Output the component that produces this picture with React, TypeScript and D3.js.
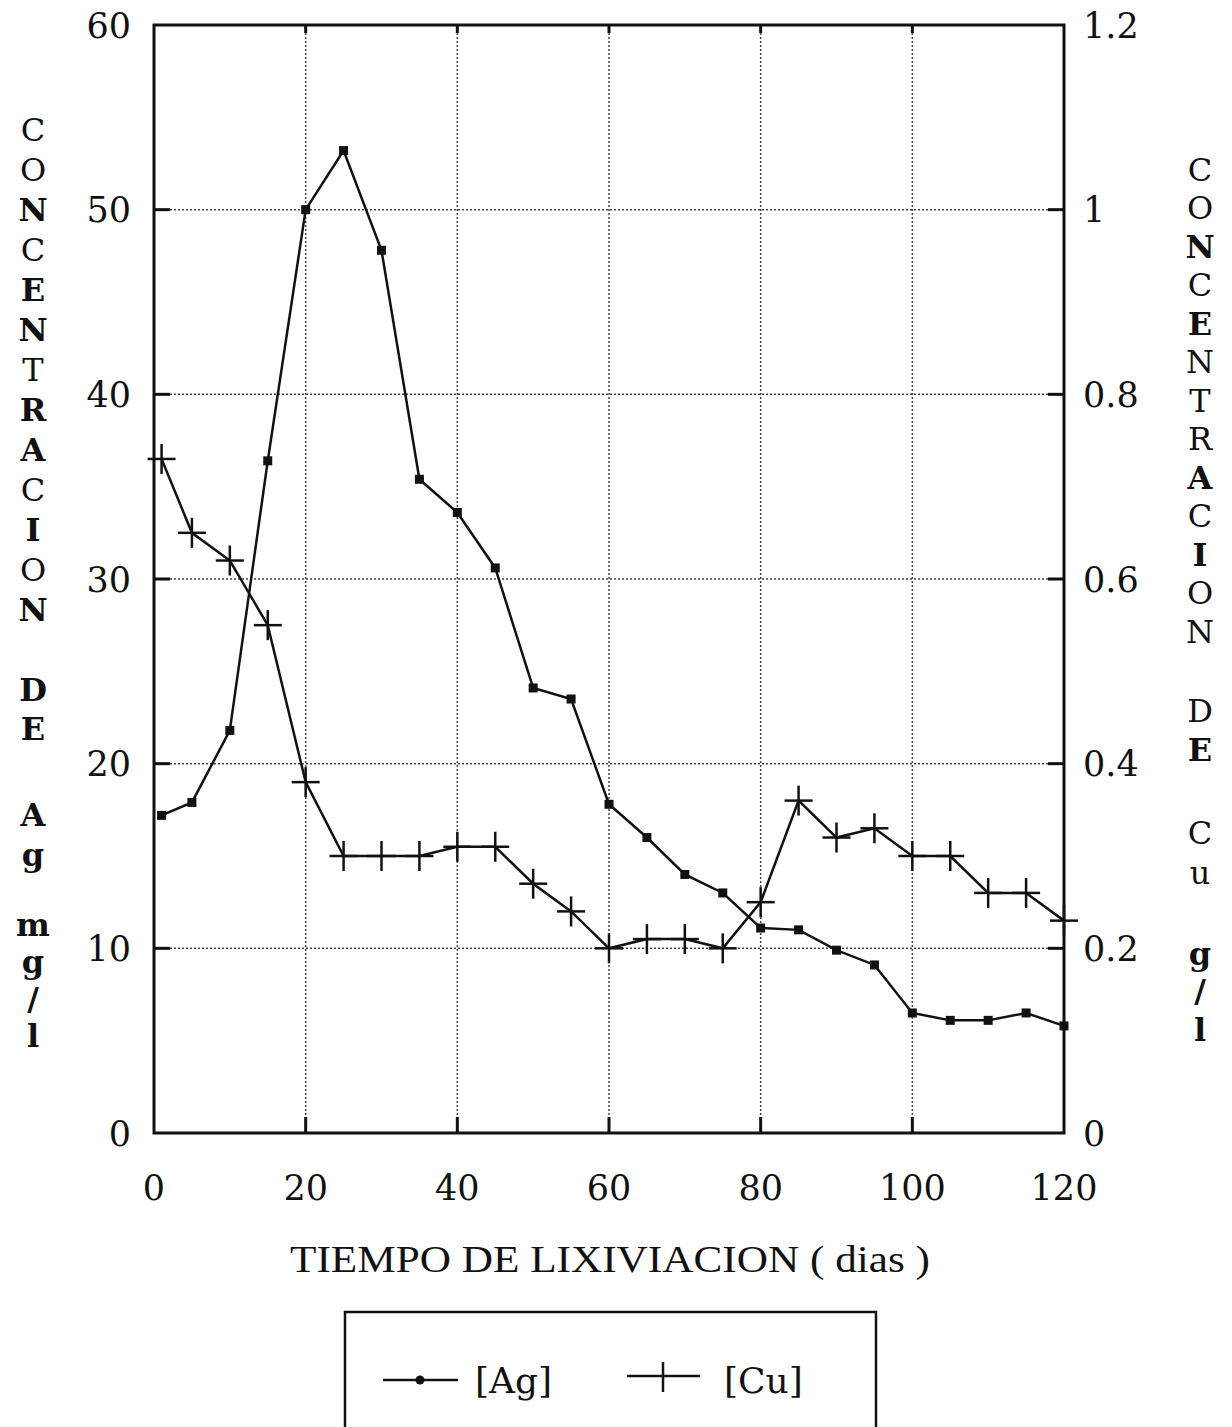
import React from 'react';
import * as d3 from 'd3';

// Dias de lixiviacion
const days = [1, 5, 10, 15, 20, 25, 30, 35, 40, 45, 50, 55, 60, 65, 70, 75, 80, 85, 90, 95, 100, 105, 110, 115, 120];
// [Ag] mg/l (eje izquierdo)
const ag = [17.2, 17.9, 21.8, 36.4, 50.0, 53.2, 47.8, 35.4, 33.6, 30.6, 24.1, 23.5, 17.8, 16.0, 14.0, 13.0, 11.1, 11.0, 9.9, 9.1, 6.5, 6.1, 6.1, 6.5, 5.8];
// [Cu] g/l (eje derecho)
const cu = [0.73, 0.65, 0.62, 0.55, 0.38, 0.30, 0.30, 0.30, 0.31, 0.31, 0.27, 0.24, 0.20, 0.21, 0.21, 0.20, 0.25, 0.36, 0.32, 0.33, 0.30, 0.30, 0.26, 0.26, 0.23];

const xTicks = [0, 20, 40, 60, 80, 100, 120];
const yLeftTicks = [0, 10, 20, 30, 40, 50, 60];
const yRightTicks = [0, 0.2, 0.4, 0.6, 0.8, 1, 1.2];

// letras verticales: [letra, negrita, y]
const leftLetters: [string, boolean, number][] = [
  ['C', false, 130], ['O', false, 170], ['N', true, 210], ['C', false, 250], ['E', true, 290],
  ['N', true, 330], ['T', false, 370], ['R', true, 410], ['A', true, 450], ['C', false, 490],
  ['I', true, 530], ['O', false, 570], ['N', true, 610],
  ['D', true, 690], ['E', true, 729], ['A', true, 815], ['g', true, 855],
  ['m', true, 925], ['g', true, 962], ['/', true, 999], ['l', true, 1036],
];
const rightLetters: [string, boolean, number][] = [
  ['C', false, 170], ['O', false, 208], ['N', true, 247], ['C', false, 285], ['E', true, 324],
  ['N', false, 362], ['T', false, 401], ['R', false, 439], ['A', true, 478], ['C', false, 516],
  ['I', true, 555], ['O', false, 593], ['N', false, 632],
  ['D', false, 711], ['E', true, 750], ['C', false, 833], ['u', false, 873],
  ['g', true, 954], ['/', true, 991], ['l', true, 1030],
];

const W = 1232;
const H = 1427;
const serif = '"DejaVu Serif", serif';

export default function App() {
  const x = d3.scaleLinear().domain([0, 120]).range([154, 1064]);
  const yL = d3.scaleLinear().domain([0, 60]).range([1133, 25]);
  const yR = d3.scaleLinear().domain([0, 1.2]).range([1133, 25]);

  const agLine = d3.line<number>().x((_, i) => x(days[i])).y(d => yL(d));
  const cuLine = d3.line<number>().x((_, i) => x(days[i])).y(d => yR(d));

  const [x0, x1] = x.range();
  const [yb, yt] = yL.range();

  return (
    <div style={{ position: 'absolute', left: 0, top: 0 }}>
      <svg width={W} height={H} style={{ display: 'block', background: '#fff' }}>
        {/* rejilla */}
        <g stroke="#444" strokeWidth={1.5} strokeDasharray="2,2">
          {xTicks.slice(1, -1).map(t => (
            <line key={'gx' + t} x1={x(t)} x2={x(t)} y1={yt} y2={yb} />
          ))}
          {yLeftTicks.slice(1, -1).map(t => (
            <line key={'gy' + t} x1={x0} x2={x1} y1={yL(t)} y2={yL(t)} />
          ))}
        </g>

        {/* marcas */}
        <g stroke="#111" strokeWidth={3}>
          {yLeftTicks.slice(1, -1).map(t => (
            <g key={'tk' + t}>
              <line x1={x0} x2={x0 + 16} y1={yL(t)} y2={yL(t)} />
              <line x1={x1 - 16} x2={x1} y1={yL(t)} y2={yL(t)} />
            </g>
          ))}
          {xTicks.slice(1, -1).map(t => (
            <g key={'tx' + t}>
              <line x1={x(t)} x2={x(t)} y1={yb} y2={yb - 16} />
              <line x1={x(t)} x2={x(t)} y1={yt} y2={yt + 8} />
            </g>
          ))}
        </g>

        {/* marco */}
        <rect x={x0} y={yt} width={x1 - x0} height={yb - yt} fill="none" stroke="#111" strokeWidth={3} />

        {/* Ag */}
        <path d={agLine(ag) || ''} fill="none" stroke="#111" strokeWidth={2.5} />
        {ag.map((v, i) => (
          <rect key={'ag' + i} x={x(days[i]) - 4.5} y={yL(v) - 4.5} width={9} height={9} fill="#111" />
        ))}

        {/* Cu */}
        <path d={cuLine(cu) || ''} fill="none" stroke="#111" strokeWidth={2.5} />
        <g stroke="#111" strokeWidth={2.5}>
          {cu.map((v, i) => (
            <g key={'cu' + i}>
              <line x1={x(days[i]) - 14} x2={x(days[i]) + 14} y1={yR(v)} y2={yR(v)} />
              <line x1={x(days[i])} x2={x(days[i])} y1={yR(v) - 15} y2={yR(v) + 15} />
            </g>
          ))}
        </g>

        {/* etiquetas de ejes */}
        <g fontFamily={serif} fontSize={35} fill="#111">
          {yLeftTicks.map(t => (
            <text key={'lt' + t} x={131} y={yL(t)} dy="0.36em" textAnchor="end">{t}</text>
          ))}
          {yRightTicks.map(t => (
            <text key={'rt' + t} x={1083} y={yR(t)} dy="0.36em" textAnchor="start">{t}</text>
          ))}
          {xTicks.map(t => (
            <text key={'bt' + t} x={x(t)} y={1200} textAnchor="middle">{t}</text>
          ))}
        </g>

        <text x={610} y={1272} fontFamily='"Liberation Serif", serif' fontSize={38} fill="#111"
          textAnchor="middle" textLength={640} lengthAdjust="spacingAndGlyphs">
          TIEMPO DE LIXIVIACION ( dias )
        </text>

        {/* titulos verticales */}
        <g fontFamily={serif} fontSize={32} fill="#111" textAnchor="middle">
          <text>
            {leftLetters.map(([c, b, yy], i) => (
              <tspan key={'l' + i} x={33} y={yy + 11} fontWeight={b ? 'bold' : 'normal'}>{c}</tspan>
            ))}
          </text>
          <text>
            {rightLetters.map(([c, b, yy], i) => (
              <tspan key={'r' + i} x={1200} y={yy + 11} fontWeight={b ? 'bold' : 'normal'}>{c}</tspan>
            ))}
          </text>
        </g>

        {/* leyenda */}
        <rect x={345} y={1312} width={531} height={125} fill="none" stroke="#111" strokeWidth={2.5} />
        <line x1={383} x2={458} y1={1380} y2={1380} stroke="#111" strokeWidth={2.5} />
        <circle cx={420} cy={1380} r={4.5} fill="#111" />
        <text x={475} y={1393} fontFamily={serif} fontSize={36} fill="#111">[Ag]</text>
        <line x1={627} x2={700} y1={1376} y2={1376} stroke="#111" strokeWidth={2.5} />
        <line x1={663} x2={663} y1={1362} y2={1392} stroke="#111" strokeWidth={2.5} />
        <text x={724} y={1393} fontFamily={serif} fontSize={36} fill="#111">[Cu]</text>
      </svg>
    </div>
  );
}
